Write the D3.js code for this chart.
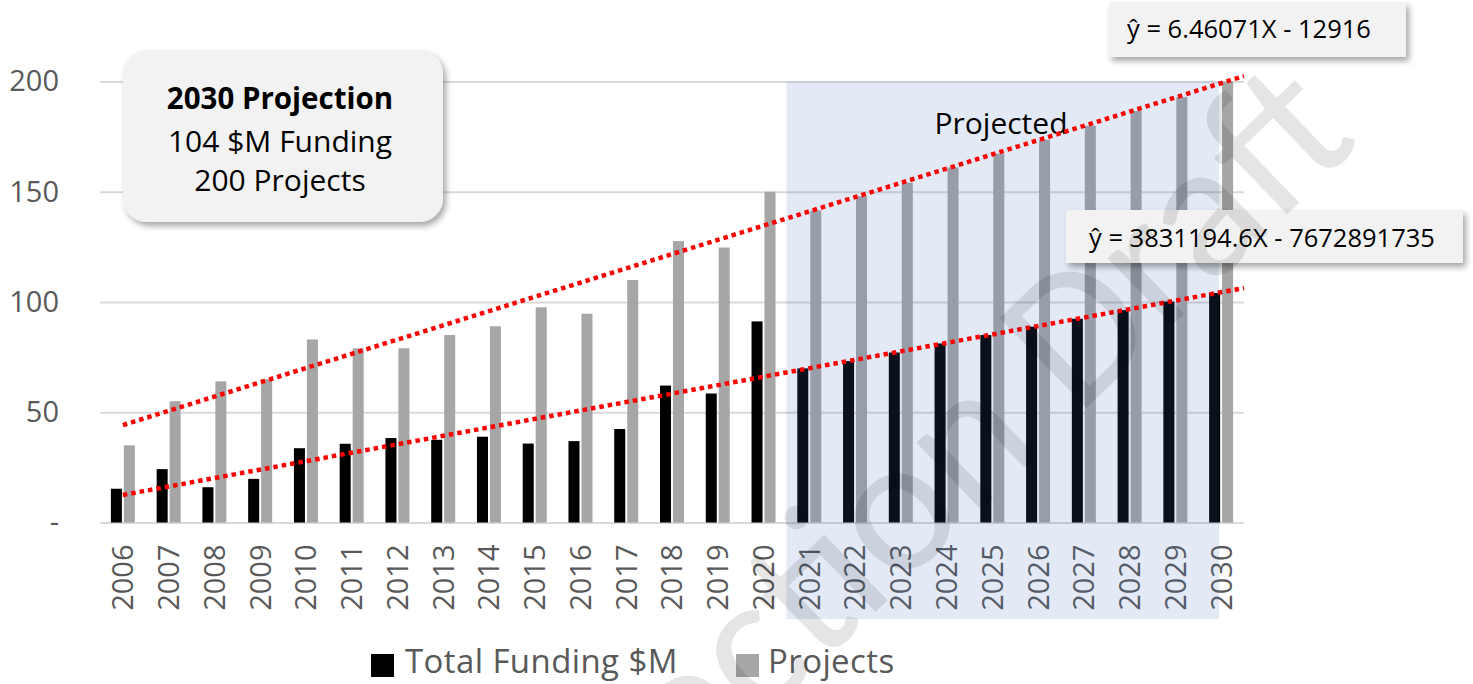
<!DOCTYPE html>
<html>
<head>
<meta charset="utf-8">
<script src="https://cdn.jsdelivr.net/npm/d3@7"></script>
<style>
  html, body { margin: 0; padding: 0; background: #ffffff; }
  svg { display: block; }
</style>
</head>
<body>
<svg id="chart" width="1473" height="684"></svg>
<script>
// ---------- data ----------
const years = ["2006","2007","2008","2009","2010","2011","2012","2013","2014","2015","2016","2017","2018","2019","2020",
               "2021","2022","2023","2024","2025","2026","2027","2028","2029","2030"];
const fundingValues = [15.3, 24.2, 16, 19.8, 33.7, 35.7, 38.3, 37.5, 38.9, 35.8, 36.9, 42.4, 62.1, 58.5, 91.2,
                       69.9, 73.2, 77.1, 81.2, 85, 88.8, 92.4, 96.3, 100.2, 104.1];
const projectValues = [35, 55, 64, 65, 83, 79, 79, 85, 89, 97.6, 94.7, 110, 127.6, 124.7, 150,
                       141.5, 148, 154.1, 161, 167.3, 173.6, 179.9, 186.6, 192.9, 200];
const seriesNames = ["Total Funding $M", "Projects"];
const yTickValues = [0, 50, 100, 150, 200];
const yTickLabels = ["-", "50", "100", "150", "200"];
// trendline equations (funding in $M: 3831194.6 $/yr)
const trendSlopes = [3.8311946, 6.46071];
const trendIntercepts = [-7672.891735, -12916];
const trendLabels = ["ŷ = 3831194.6X - 7672891735", "ŷ = 6.46071X - 12916"];
const projectedYears = ["2021", "2030"];
const calloutLines = ["2030 Projection", "104 $M Funding", "200 Projects"];
const watermarkText = "Projection Draft";

// ---------- layout ----------
const svg = d3.select("#chart");
const plotLeft = 100, plotRight = 1244, plotTop = 81.5, plotBottom = 522.5;
const colors = { funding: "#000000", projects: "#a6a6a6" };
const textGrey = "#595959";
const uiFont = "'Open Sans', sans-serif";

const x = d3.scaleBand().domain(years).range([plotLeft, plotRight]).paddingInner(0).paddingOuter(0);
const sub = d3.scaleBand().domain(seriesNames).range([-12, 12]).paddingInner(0.15);
const y = d3.scaleLinear().domain([0, 200]).range([plotBottom, plotTop]);
const cx = d => x(d) + x.bandwidth() / 2;
const xNum = d3.scaleLinear().domain([+years[0], +years[years.length - 1]])
  .range([cx(years[0]), cx(years[years.length - 1])]);

// defs
const defs = svg.append("defs");
const f = defs.append("filter").attr("id", "shadow").attr("x", "-10%").attr("y", "-20%").attr("width", "130%").attr("height", "160%");
f.append("feDropShadow").attr("dx", 3).attr("dy", 4).attr("stdDeviation", 3)
  .attr("flood-color", "#000").attr("flood-opacity", 0.35);

// gridlines via axis
const yAxis = d3.axisLeft(y).tickValues(yTickValues).tickSize(-(plotRight - plotLeft)).tickFormat((d, i) => yTickLabels[i]);
const gy = svg.append("g").attr("transform", `translate(${plotLeft},0)`).call(yAxis);
gy.select(".domain").remove();
gy.selectAll(".tick line").attr("stroke", "#d9d9d9").attr("stroke-width", 2);
gy.selectAll(".tick text")
  .attr("x", -41)
  .attr("fill", textGrey)
  .style("font-family", uiFont)
  .style("font-size", "29px");

// bars
const groups = svg.append("g").selectAll("g").data(years).join("g")
  .attr("transform", d => `translate(${cx(d)},0)`);
groups.append("rect")
  .attr("x", sub(seriesNames[0])).attr("width", sub.bandwidth())
  .attr("y", (d, i) => y(fundingValues[i]))
  .attr("height", (d, i) => y(0) - y(fundingValues[i]))
  .attr("fill", colors.funding);
groups.append("rect")
  .attr("x", sub(seriesNames[1])).attr("width", sub.bandwidth())
  .attr("y", (d, i) => y(projectValues[i]))
  .attr("height", (d, i) => y(0) - y(projectValues[i]))
  .attr("fill", colors.projects);

// x axis labels
const xAxis = d3.axisBottom(x).tickSize(0).tickPadding(0);
const gx = svg.append("g").attr("transform", `translate(0,${plotBottom})`).call(xAxis);
gx.select(".domain").remove();
gx.selectAll(".tick text")
  .attr("transform", "rotate(-90)")
  .attr("x", -22).attr("y", 0).attr("dy", "0.36em")
  .attr("text-anchor", "end")
  .attr("fill", textGrey)
  .style("font-family", uiFont)
  .style("font-size", "29px");

// projected shading (overlay)
const shadeX0 = x(projectedYears[0]);
const shadeX1 = cx(projectedYears[1]) - 2;
svg.append("rect")
  .attr("x", shadeX0).attr("y", y(200))
  .attr("width", shadeX1 - shadeX0).attr("height", 619 - y(200))
  .attr("fill", "rgb(68,114,196)").attr("fill-opacity", 0.15);
svg.append("text")
  .attr("x", 1001).attr("y", 134)
  .attr("text-anchor", "middle")
  .style("font-family", uiFont)
  .style("font-size", "30px").attr("fill", "#000")
  .text("Projected");

// trendlines
const trendEnd = +years[years.length - 1] + 0.5;
trendSlopes.forEach((m, i) => {
  const x0 = +years[0], x1 = trendEnd;
  svg.append("line")
    .attr("x1", xNum(x0)).attr("y1", y(m * x0 + trendIntercepts[i]))
    .attr("x2", xNum(x1)).attr("y2", y(m * x1 + trendIntercepts[i]))
    .attr("stroke", "#ff0000").attr("stroke-width", 4.5)
    .attr("stroke-dasharray", "4.5,4");
});

// callout box
const cb = svg.append("g");
cb.append("rect").attr("x", 123).attr("y", 50).attr("width", 320).attr("height", 172)
  .attr("rx", 24).attr("fill", "#f2f2f2").attr("filter", "url(#shadow)");
cb.selectAll("text").data(calloutLines).join("text")
  .attr("x", 280).attr("y", (d, i) => [109, 152, 191][i])
  .attr("text-anchor", "middle")
  .style("font-family", uiFont)
  .style("font-size", (d, i) => i === 0 ? "29.5px" : "30px")
  .style("font-weight", (d, i) => i === 0 ? "bold" : "normal")
  .attr("fill", "#000")
  .text(d => d);

// equation boxes
const eqBoxes = [
  { x: 1066, y: 210, w: 397, h: 53, tx: 1089, ty: 247 },
  { x: 1109, y: 2, w: 297, h: 55, tx: 1127, ty: 38 }
];
eqBoxes.forEach((b, i) => {
  svg.append("rect").attr("x", b.x).attr("y", b.y).attr("width", b.w).attr("height", b.h)
    .attr("fill", "#f2f2f2").attr("filter", "url(#shadow)");
  svg.append("text").attr("x", b.tx).attr("y", b.ty)
    .style("font-family", uiFont)
    .style("font-size", "25.5px").attr("fill", "#000")
    .text(trendLabels[i]);
});

// legend
const legendItems = [
  { name: seriesNames[0], color: colors.funding, sx: 371, tx: 405 },
  { name: seriesNames[1], color: colors.projects, sx: 736, tx: 768 }
];
const lg = svg.append("g");
legendItems.forEach(it => {
  lg.append("rect").attr("x", it.sx).attr("y", 654).attr("width", 23).attr("height", 23).attr("fill", it.color);
  lg.append("text").attr("x", it.tx).attr("y", 673)
    .style("font-family", uiFont)
    .style("font-size", "33px").attr("fill", textGrey)
    .style("letter-spacing", "0.4px")
    .text(it.name);
});

// watermark
svg.append("text")
  .attr("transform", "translate(1362,142) rotate(-44)")
  .attr("text-anchor", "end")
  .style("font-family", "Calibri, Carlito, Lato, sans-serif")
  .style("font-size", "195px")
  .attr("fill", "#000").attr("fill-opacity", 0.1)
  .text(watermarkText);
</script>
</body>
</html>
